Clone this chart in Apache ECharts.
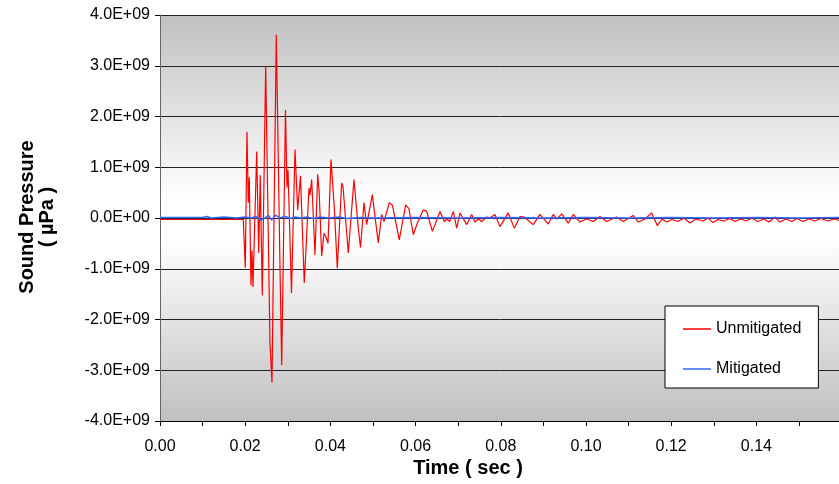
<!DOCTYPE html>
<html>
<head>
<meta charset="utf-8">
<script src="https://cdn.jsdelivr.net/npm/echarts@6/dist/echarts.min.js"></script>
<style>
html,body{margin:0;padding:0;background:#fff;}
#chart{width:839px;height:484px;}
</style>
</head>
<body>
<div id="chart"></div>
<script>
// ---- data (time in seconds, pressure in µPa) ----
const seriesNames = ['Unmitigated', 'Mitigated'];
const xTickValues = ['0.00','0.02','0.04','0.06','0.08','0.10','0.12','0.14'];

const unmitigatedTime = [
  0, 0.01955, 0.02002, 0.02042, 0.02073, 0.02096, 0.02136, 0.02160, 0.02183, 0.02270,
  0.02317, 0.02354, 0.02401, 0.02481, 0.02582, 0.02629, 0.02730, 0.02754, 0.02817, 0.02857,
  0.02946, 0.02981, 0.03005, 0.03087, 0.03169, 0.03232, 0.03298, 0.03387, 0.03498, 0.03521,
  0.03561, 0.03638, 0.03702, 0.03737, 0.03796, 0.03850, 0.03897, 0.03944, 0.04014, 0.04092,
  0.04162, 0.04265, 0.04296, 0.04420, 0.04554, 0.04655, 0.04707, 0.04789, 0.04852, 0.04984,
  0.05124, 0.05204, 0.05258, 0.05383, 0.05458, 0.05617, 0.05768, 0.05845, 0.05946, 0.06033,
  0.06181, 0.06261, 0.06392, 0.06439, 0.06573, 0.06674, 0.06737, 0.06800, 0.06885, 0.06965,
  0.07042, 0.07200, 0.07317, 0.07394, 0.07472, 0.07552, 0.07669, 0.07746, 0.07864, 0.07981,
  0.08176, 0.08317, 0.08451, 0.08545, 0.08763, 0.08920, 0.09115, 0.09232, 0.09319, 0.09430,
  0.09585, 0.09702, 0.09859, 0.10016, 0.10171, 0.10329, 0.10486, 0.10721, 0.10876, 0.11110,
  0.11228, 0.11385, 0.11542, 0.11674, 0.11784, 0.11901, 0.12019, 0.12160, 0.12300, 0.12441,
  0.12582, 0.12746, 0.12864, 0.12981, 0.13099, 0.13239, 0.13380, 0.13498, 0.13638, 0.13756,
  0.13897, 0.14038, 0.14178, 0.14296, 0.14437, 0.14554, 0.14695, 0.14836, 0.14953, 0.15094,
  0.15235, 0.15376, 0.15516, 0.15681, 0.15822, 0.15939
];
const unmitigatedPressure = [
  -3e7, -3e7, -9.8e8, 1.70e9, 3.0e8, 8.0e8, -1.33e9, -6.4e8, -1.36e9, 1.31e9,
  -6.9e8, 8.4e8, -1.52e9, 2.98e9, -2.48e9, -3.24e9, 3.61e9, 3.59e9, -9.7e8, -2.90e9,
  2.13e9, 6.0e8, 9.5e8, -1.48e9, 1.35e9, 1.6e8, 8.3e8, -1.28e9, 5.9e8, 4.5e8,
  7.6e8, -7.3e8, 8.6e8, 5.0e8, -7.5e8, -3.0e8, -3.8e8, -5.0e8, 1.15e9, 2.0e8,
  -9.9e8, 6.9e8, 6.2e8, -6.9e8, 7.6e8, -2.0e8, -5.8e8, 3.0e8, -1.3e8, 4.6e8,
  -4.9e8, 7e7, -7e7, 3.0e8, 2.5e8, -4.3e8, 2.6e8, 1.8e8, -3.3e8, -1.2e8,
  1.6e8, 1.3e8, -2.6e8, -1.7e8, 1.3e8, -7e7, -2e7, -7e7, 1.3e8, -2.0e8,
  1.0e8, -1.3e8, 7e7, -8e7, -2e7, -7e7, 2e7, 0, 7e7, -1.7e8,
  1.0e8, -2.0e8, 3e7, 2e7, -1.3e8, 7e7, -1.2e8, 7e7, -2e7, 8e7,
  -1.0e8, 7e7, -8e7, -2e7, -7e7, 3e7, -7e7, 2e7, -7e7, 5e7,
  -8e7, -2e7, 1.0e8, -1.5e8, -2e7, -8e7, -3e7, -7e7, 0, -1.0e8,
  -2e7, -6e7, 0, -9e7, -3e7, -6e7, -1e7, -7e7, -2e7, -6e7,
  0, -7e7, -2e7, -8e7, 2e7, -8e7, -2e7, -7e7, -1e7, -7e7,
  -2e7, -6e7, -1e7, -6e7, -2e7, -5e7
];

const mitigatedTime = [
  0, 0.0100, 0.0110, 0.0120, 0.0150, 0.0180, 0.0200, 0.0215, 0.0225, 0.0238,
  0.0248, 0.0255, 0.0262, 0.0272, 0.0280, 0.0295, 0.0305, 0.0318, 0.0330, 0.0345,
  0.0360, 0.0375, 0.0395, 0.0420, 0.0440, 0.0470, 0.0500, 0.0600, 0.0700, 0.0800,
  0.0900, 0.1000, 0.1100, 0.1200, 0.1300, 0.1400, 0.1500, 0.1594
];
const mitigatedPressure = [
  1e7, 1e7, 3e7, 0, 2e7, 0, 2e7, 0, 3e7, -4e7,
  1e7, 5e7, -4e7, 6e7, 0, 3e7, -1e7, 2e7, 0, 2e7,
  -1e7, 2e7, 0, 2e7, -1e7, 1e7, 0, 1e7, 0, 1e7,
  0, 1e7, 0, 1e7, 0, 1e7, 0, 1e7
];

const yMin = -4e9, yMax = 4e9, yStep = 1e9;
const xMin = 0, xMax = 0.1594, xStep = 0.01;

function pairs(xs, ys) { return xs.map((x, i) => [x, ys[i]]); }

function sci(v) {
  if (Math.abs(v) < 1e-9) return '0.0E+00';
  const sign = v < 0 ? '-' : '';
  const a = Math.abs(v);
  let e = Math.floor(Math.log10(a) + 1e-9);
  let m = a / Math.pow(10, e);
  return sign + m.toFixed(1) + 'E+' + String(e).padStart(2, '0');
}

const chart = echarts.init(document.getElementById('chart'), null, {renderer: 'canvas'});
const FONT = 'Arial, "Liberation Sans", Helvetica, sans-serif';
const lineIcon = 'path://M0,0H28V1.5H0Z';

chart.setOption({
  animation: false,
  grid: {
    left: 160, right: 0, top: 15, bottom: 63,
    show: true,
    borderWidth: 0,
    backgroundColor: {
      type: 'linear', x: 0, y: 0, x2: 0, y2: 1,
      colorStops: [
        {offset: 0, color: '#c0c0c0'},
        {offset: 0.45, color: '#ffffff'},
        {offset: 0.55, color: '#ffffff'},
        {offset: 1, color: '#c0c0c0'}
      ]
    }
  },
  legend: {
    orient: 'vertical',
    left: 665, top: 306,
    data: [
      {name: seriesNames[0], icon: lineIcon, itemStyle: {color: '#ff0000'}},
      {name: seriesNames[1], icon: lineIcon, itemStyle: {color: '#3366ff'}}
    ],
    symbolKeepAspect: true,
    backgroundColor: '#ffffff',
    borderColor: '#000000',
    borderWidth: 1,
    borderRadius: 0,
    padding: [15, 17, 11, 18],
    itemGap: 24,
    itemWidth: 28,
    itemHeight: 16,
    textStyle: {fontFamily: FONT, fontSize: 16, color: '#000', padding: [0, 0, 0, 0]}
  },
  xAxis: {
    type: 'value',
    min: xMin, max: xMax, interval: xStep,
    axisLine: {show: true, onZero: false, lineStyle: {color: '#000', width: 1}},
    axisTick: {show: true, inside: false, length: 5, lineStyle: {color: '#000'}},
    splitLine: {show: false},
    axisLabel: {
      fontFamily: FONT, fontSize: 16, color: '#000', margin: 18,
      showMaxLabel: false,
      formatter: function (v) {
        const s = v.toFixed(2);
        const k = v * 100;
        if (Math.abs(k - Math.round(k)) > 1e-6) return '';
        return xTickValues.indexOf(s) >= 0 ? s : '';
      }
    }
  },
  yAxis: {
    type: 'value',
    min: yMin, max: yMax, interval: yStep,
    axisLine: {show: true, lineStyle: {color: '#666', width: 1}},
    axisTick: {show: true, inside: false, length: 5, lineStyle: {color: '#000'}},
    splitLine: {show: true, lineStyle: {color: '#222', width: 1}},
    axisLabel: {
      fontFamily: FONT, fontSize: 16, color: '#000', margin: 10,
      formatter: sci
    }
  },
  graphic: [
    {
      type: 'text', x: 27, y: 217, rotation: Math.PI / 2,
      style: {text: 'Sound Pressure', font: 'bold 20px ' + FONT, fill: '#000', align: 'center', verticalAlign: 'middle'}
    },
    {
      type: 'text', x: 47, y: 217, rotation: Math.PI / 2,
      style: {text: '( µPa )', font: 'bold 20px ' + FONT, fill: '#000', align: 'center', verticalAlign: 'middle'}
    },
    {
      type: 'text', x: 468, y: 468,
      style: {text: 'Time ( sec )', font: 'bold 20px ' + FONT, fill: '#000', align: 'center', verticalAlign: 'middle'}
    }
  ],
  series: [
    {
      name: seriesNames[0], type: 'line', symbol: 'none', smooth: false,
      data: pairs(unmitigatedTime, unmitigatedPressure),
      lineStyle: {color: '#ff0000', width: 1.2},
      itemStyle: {color: '#ff0000'}
    },
    {
      name: seriesNames[1], type: 'line', symbol: 'none', smooth: false,
      data: pairs(mitigatedTime, mitigatedPressure),
      lineStyle: {color: '#3366ff', width: 1.5},
      itemStyle: {color: '#3366ff'}
    }
  ]
});
</script>
</body>
</html>
